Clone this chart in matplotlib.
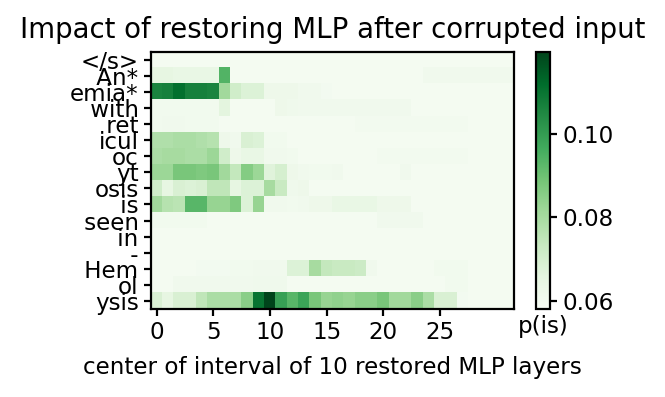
import numpy as np
import matplotlib
matplotlib.use("Agg")
import matplotlib.pyplot as plt

tokens = ["</s>", " An*", "emia*", " with", " ret", "icul", "oc", "yt", "osis",
          " is", " seen", " in", " -", " Hem", "ol", "ysis"]
answer = "is"
window = 10

B = 0.0595
row_s = [B] * 32
row_An = [0.065, 0.065, 0.064, 0.064, 0.064, 0.064, 0.094] + [B] * 17 + [0.061] * 8
row_emia = [0.106, 0.107, 0.111, 0.107, 0.107, 0.106, 0.081, 0.071, 0.068, 0.068,
            0.062, 0.062, 0.062, 0.061, 0.061, 0.060] + [B] * 16
row_with = [0.0605] * 6 + [0.066, B, B, B, B, 0.062, 0.0615] + [0.061] * 10 + [B] * 9
row_ret = [0.0605, 0.061, 0.061, 0.0605, 0.0605, 0.0605] + [B] * 12 + [0.0603] * 10 + [B] * 4
row_icul = [0.078, 0.078, 0.079, 0.079, 0.078, 0.077, 0.062, 0.061, 0.069, 0.068,
            0.0605, 0.0605] + [B] * 20
row_oc = [0.079, 0.080, 0.080, 0.079, 0.079, 0.082, 0.071, 0.062, 0.064, 0.064,
          0.061, 0.061, 0.0605] + [B] * 7 + [0.0603] * 8 + [B] * 4
row_yt = [0.082, 0.082, 0.088, 0.088, 0.087, 0.088, 0.081, 0.074, 0.086, 0.082,
          0.067, 0.070, 0.062, 0.061, 0.0605, 0.0605, 0.061, B, B, B, B, B, 0.061] + [B] * 9
row_osis = [0.071, 0.065, 0.069, 0.068, 0.069, 0.075, 0.075, 0.065, 0.068, 0.068,
            0.080, 0.073, 0.0615, 0.062] + [B] * 18
row_is = [0.081, 0.077, 0.076, 0.093, 0.093, 0.083, 0.083, 0.087, 0.068, 0.083,
          0.061, 0.061, 0.0605, 0.061, 0.062, 0.062, 0.064, 0.064, 0.064, 0.064,
          0.062, 0.062, 0.062] + [B] * 9
row_seen = [0.0605] * 5 + [B] * 15 + [0.061] * 4 + [B] * 8
row_in = [B] * 32
row_dash = [B] * 32
row_Hem = [B, B, B, B, 0.060, 0.060, 0.060, 0.0605, 0.0605, 0.061, 0.061, 0.061,
           0.068, 0.068, 0.080, 0.074, 0.073, 0.073, 0.072, 0.061] + [B] * 5 + [0.0605] * 3 + [B] * 4
row_ol = [B, B] + [0.061] * 7 + [0.0615] * 3 + [B] * 14 + [0.0605] * 2 + [B] * 4
row_ysis = [0.069, 0.065, 0.069, 0.069, 0.075, 0.079, 0.079, 0.079, 0.085, 0.110,
            0.1196, 0.099, 0.093, 0.098, 0.088, 0.083, 0.084, 0.083, 0.085, 0.085,
            0.088, 0.081, 0.081, 0.085, 0.079, 0.069, 0.069, 0.060, B, B, B, B]

rows = [row_s, row_An, row_emia, row_with, row_ret, row_icul, row_oc, row_yt,
        row_osis, row_is, row_seen, row_in, row_dash, row_Hem, row_ol, row_ysis]
differences = np.array(rows)

plt.rcParams["font.family"] = ["DejaVu Sans"]
plt.rcParams["font.size"] = 8.3

fig = plt.figure(figsize=(3.325, 1.985), dpi=200)
ax = fig.add_axes([0.2271, 0.2217, 0.5454, 0.6481])
cax = fig.add_axes([0.806, 0.2217, 0.021, 0.6481])

h = ax.pcolor(differences, cmap="Greens", vmin=0.058, vmax=0.1196)
ax.invert_yaxis()
ax.set_yticks([0.5 + i for i in range(len(differences))])
ax.set_xticks([0.5 + i for i in range(0, differences.shape[1] - 6, 5)])
ax.set_xticklabels(list(range(0, differences.shape[1] - 6, 5)))
ax.set_yticklabels(tokens)
ax.tick_params(length=2.5, pad=2)
ax.set_title("Impact of restoring MLP after corrupted input", pad=5)
ax.set_xlabel(f"center of interval of {window} restored MLP layers")

cb = fig.colorbar(h, cax=cax)
cb.set_ticks([0.06, 0.08, 0.10])
cb.set_ticklabels(["0.06", "0.08", "0.10"])
cb.ax.tick_params(length=2.5, pad=2)
cb.ax.set_title(f"p({answer})", y=-0.16, fontsize=8.3)

fig.savefig("out.png", dpi=200)
